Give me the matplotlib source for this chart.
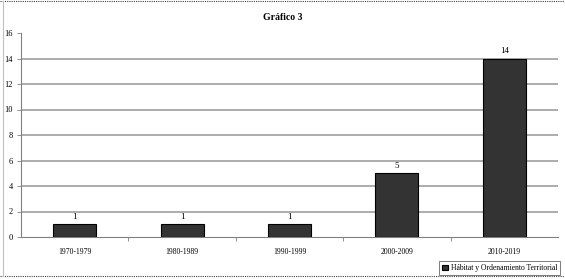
import matplotlib.pyplot as plt
from matplotlib.lines import Line2D

categories = ['1970-1979', '1980-1989', '1990-1999', '2000-2009', '2010-2019']
values = [1, 1, 1, 5, 14]
series_name = 'Hábitat y Ordenamiento Territorial'

plt.rcParams['font.family'] = ['Liberation Serif', 'DejaVu Serif']

fig = plt.figure(figsize=(5.65, 2.79), dpi=100)
ax = fig.add_axes([21 / 565, 1 - 237 / 279, 537 / 565, 204 / 279])

x = range(len(categories))
bars = ax.bar(x, values, width=0.4, color='#333333', edgecolor='black', linewidth=0.8,
              label=series_name, zorder=3)
for xi, v in zip(x, values):
    ax.text(xi, v + 0.25, str(v), ha='center', va='bottom', fontsize=6.5)

ax.set_xlim(-0.5, len(categories) - 0.5)
ax.set_ylim(0, 16)
ax.set_yticks(range(0, 17, 2))
ax.tick_params(axis='y', labelsize=6, length=3, width=0.6, color='#808080', pad=3)
ax.set_xticks(list(x))
ax.set_xticklabels(categories, fontsize=5.5)
ax.tick_params(axis='x', length=0, pad=8)
ax.set_xticks([i + 0.5 for i in range(len(categories) - 1)], minor=True)
ax.tick_params(axis='x', which='minor', length=3, width=0.6, color='#808080')

for y in range(2, 16, 2):
    ax.axhline(y, color='#a6a6a6', linewidth=1.3, zorder=1)

for s in ['top', 'right']:
    ax.spines[s].set_visible(False)
ax.spines['left'].set_color('#808080')
ax.spines['bottom'].set_color('#808080')
ax.spines['left'].set_linewidth(0.8)
ax.spines['bottom'].set_linewidth(0.8)

fig.text(0.5, 1 - 17 / 279, 'Gráfico 3', ha='center', va='center', fontsize=7, fontweight='bold')

leg = ax.legend(loc='lower right', bbox_to_anchor=(560 / 565, 4 / 279), bbox_transform=fig.transFigure,
                fontsize=5.5, frameon=True, fancybox=False, handlelength=0.7, handleheight=0.7,
                handletextpad=0.4, borderpad=0.4, borderaxespad=0)
leg.get_frame().set_edgecolor('#404040')
leg.get_frame().set_linewidth(0.6)

# outer border of the chart area
fig.add_artist(Line2D([0, 1], [0.998, 0.998], transform=fig.transFigure, color='#404040',
                      linewidth=0.8, linestyle=(0, (1, 1))))
fig.add_artist(Line2D([0, 1], [3 / 279, 3 / 279], transform=fig.transFigure, color='#404040',
                      linewidth=0.8, linestyle=(0, (1, 1))))
fig.add_artist(Line2D([3 / 565, 3 / 565], [3 / 279, 0.998], transform=fig.transFigure, color='#c0c0c0',
                      linewidth=0.8))

fig.savefig('out.png', dpi=100)
